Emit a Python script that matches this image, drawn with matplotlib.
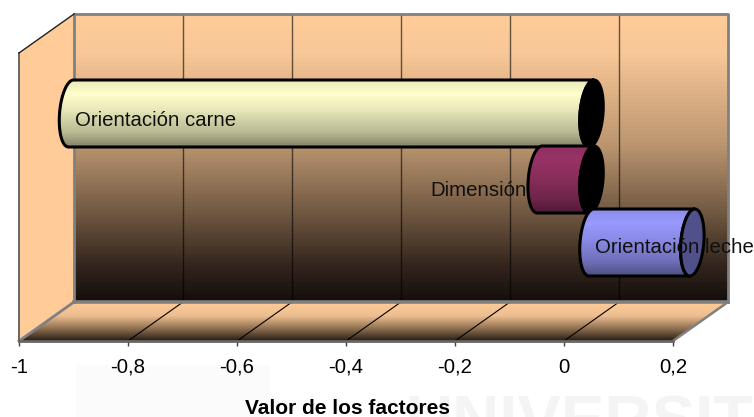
import numpy as np
import matplotlib
matplotlib.use("Agg")
import matplotlib.pyplot as plt
from matplotlib.colors import to_rgb
from matplotlib.patches import Polygon, Rectangle

plt.rcParams['font.family'] = ['Liberation Sans', 'DejaVu Sans']

# factor scores
categories = ["Orientación carne", "Dimensión", "Orientación leche"]
values = [-0.955, -0.095, 0.185]
tick_values = [-1, -0.8, -0.6, -0.4, -0.2, 0, 0.2]
tick_labels = ["-1", "-0,8", "-0,6", "-0,4", "-0,2", "0", "0,2"]
xlabel = "Valor de los factores"

bar_colors = ["#FFFFCC", "#993366", "#9999FF"]
cap_colors = ["#000000", "#000000", "#50508A"]

# axes run in value units across, pixels down
PX = 545.0
X0 = -1 - 19 / PX
FLOOR, CEIL = 341, 53
DX, DY = 55 / PX, -39

fig = plt.figure(figsize=(7.54, 4.17), dpi=100, facecolor="white")
ax = fig.add_axes([0, 0, 1, 1])
z = [1]


def gradient(poly, extent, ramp):
    # vertical colour ramp clipped to a polygon
    img = ax.imshow(np.array(ramp)[:, None, :], extent=extent, aspect="auto",
                    interpolation="nearest", zorder=z[0])
    img.set_clip_path(Polygon(poly, transform=ax.transData))
    z[0] += 1


def ramp_between(ys, stops, cols):
    cols = np.array([to_rgb(c) for c in cols])
    return np.stack([np.interp(ys, stops, cols[:, i]) for i in range(3)], axis=1)


# pale page watermark behind the chart
ax.add_patch(Rectangle((X0 + 76 / PX, 365), 194 / PX, 60, fc="#FBFBFB", ec="none", zorder=0))
ax.text(X0 + 405 / PX, 442, "UNIVERSIT", fontsize=47, fontweight="bold", color="#F4F4F4",
        ha="left", va="baseline", zorder=0, clip_on=True)

# side wall
ax.add_patch(Polygon([(-1, FLOOR), (-1 + DX, FLOOR + DY), (-1 + DX, CEIL + DY), (-1, CEIL)],
                     fc="#FFCC99", ec="none", zorder=0))

# back wall
x_l, x_r = -1 + DX, 0.2 + DX
y_t, y_b = CEIL + DY, FLOOR + DY
ys = np.linspace(0, 1, 72)
wall = ramp_between(ys, [0, 0.13, 0.45, 0.7, 0.88, 1],
                    ["#FFCC99", "#F8C797", "#BC9670", "#6E5640", "#33251C", "#140E0C"])
gradient([(x_l, y_t), (x_r, y_t), (x_r, y_b), (x_l, y_b)], (x_l, x_r, y_b, y_t), wall)

# floor
ys = np.linspace(0, 1, 39)
floor = ramp_between(ys, [0, 0.35, 0.7, 1], ["#FFCC99", "#EDBE90", "#8A6C4E", "#2A1E16"])
gradient([(-1, FLOOR), (0.2, FLOOR), (x_r, y_b), (x_l, y_b)], (-1, x_r, FLOOR, y_b), floor)

# grid on the wall and floor
for v in tick_values[1:-1]:
    ax.plot([v + DX, v + DX], [y_t, y_b], color="#000000", lw=1, alpha=0.6, zorder=z[0])
    ax.plot([v, v + DX], [FLOOR, y_b], color="#000000", lw=0.8, zorder=z[0])
z[0] += 1

# frame edges
gray = "#808080"
ax.plot([x_l, x_r, x_r], [y_t, y_t, y_b], color=gray, lw=2, zorder=z[0], solid_capstyle="projecting")
ax.plot([x_l, x_l], [y_t, y_b], color=gray, lw=2, zorder=z[0])
ax.plot([x_l, x_r], [y_b, y_b], color=gray, lw=2.6, zorder=z[0])
ax.plot([0.2, x_r], [FLOOR, y_b], color=gray, lw=1.8, zorder=z[0])
ax.plot([-1, x_l], [FLOOR, y_b], color=gray, lw=2, zorder=z[0])
ax.plot([-1, -1], [CEIL, FLOOR], color="#666666", lw=1.4, zorder=z[0])
ax.plot([-1, x_l], [CEIL, y_t], color="#202020", lw=1, zorder=z[0])
z[0] += 1

# cylinders sit halfway into the depth of the box
A, B, SHEAR = 11.5 / PX, 33.5, 2.5 / PX
row_y = [113.5, 179.5, 242.5]
shade_stops = [0, 0.2, 0.5, 0.8, 1]
shade = [0.92, 1.0, 0.88, 0.72, 0.52]


def end_ellipse(cx, cy, t):
    return cx + DX / 2 + A * np.cos(t) - SHEAR * np.sin(t), cy + B * np.sin(t)


for name, v, col, cap, cy in zip(categories, values, bar_colors, cap_colors, row_y):
    lo, hi = min(v, 0), max(v, 0)
    # body: left half of the low end, then the left half of the high end
    t1 = np.linspace(np.pi / 2, 3 * np.pi / 2, 40)
    xl, yl = end_ellipse(lo, cy, t1)
    xh, yh = end_ellipse(hi, cy, t1[::-1])
    body = np.column_stack([np.r_[xl, xh], np.r_[yl, yh]])
    bands = np.linspace(0, 1, 34)
    base = np.array(to_rgb(col))
    ramp = np.clip(np.outer(np.interp(bands, shade_stops, shade), base), 0, 1)
    gradient(body, (lo, hi + DX, cy + B, cy - B), ramp)
    ax.add_patch(Polygon(body, closed=True, fc="none", ec="black", lw=2.2, zorder=z[0]))
    z[0] += 1
    t2 = np.linspace(0, 2 * np.pi, 80)
    xc, yc = end_ellipse(hi, cy, t2)
    ax.add_patch(Polygon(np.column_stack([xc, yc]), closed=True, fc=cap, ec="black", lw=2.2, zorder=z[0]))
    z[0] += 1

# bar labels
label_pos = [(75, 120, "left"), (527, 190, "right"), (595, 247, "left")]
for name, (px, py, ha) in zip(categories, label_pos):
    ax.text(X0 + px / PX, py, name, fontsize=14.7, color="#101010", ha=ha, va="center", zorder=z[0])

ax.set_xlim(X0, X0 + 754 / PX)
ax.set_ylim(417, 0)
ax.set_yticks([])
ax.patch.set_visible(False)
for s in ["top", "left", "right"]:
    ax.spines[s].set_visible(False)
ax.spines["bottom"].set_position(("data", FLOOR))
ax.spines["bottom"].set_bounds(-1, 0.2)
ax.spines["bottom"].set_color("#666666")
ax.spines["bottom"].set_linewidth(2)
ax.spines["bottom"].set_zorder(z[0])
ax.set_xticks(tick_values)
ax.set_xticklabels(tick_labels, fontsize=14.7, va="baseline")
ax.tick_params(axis="x", length=3.6, width=1, color="#404040", pad=19.4)
ax.text(X0 + 347 / PX, 414, xlabel, fontsize=15, fontweight="bold", ha="center", va="baseline")

fig.savefig("out.png", dpi=100)
